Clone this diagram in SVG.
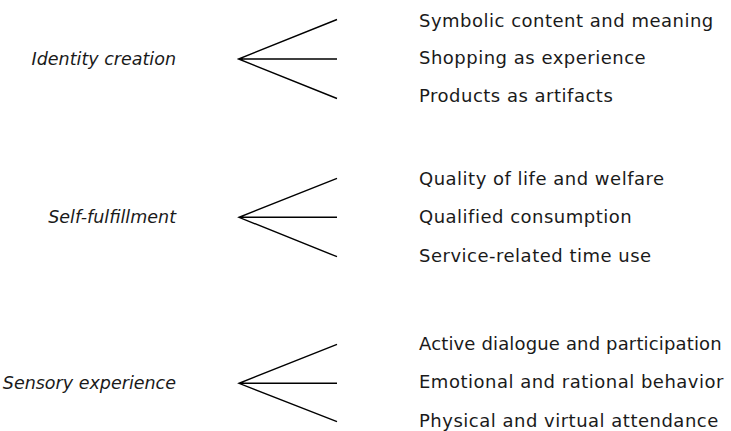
<svg xmlns="http://www.w3.org/2000/svg" width="731" height="431" viewBox="0 0 731 431">
<style>
.l{font-family:"DejaVu Sans",sans-serif;font-size:17.5px;font-style:italic;fill:#1a1a1a;text-anchor:end}
.r{font-family:"DejaVu Sans",sans-serif;font-size:18px;letter-spacing:0.5px;fill:#1a1a1a}
.c{stroke:#000;stroke-width:1.4;fill:none}
</style>
<rect width="731" height="431" fill="#fff"/>
<g id="connectors">
<path class="c" d="M337 19.5L238.5 59L337 98.5M238.5 59H337"/>
<path class="c" d="M337 178.3L239 217.3L337 256.7M239 217.3H337"/>
<path class="c" d="M337 344.3L239 383.3L337 421.7M239 383.3H337"/>
</g>
<g id="identity"><text class="l" x="176" y="65">Identity creation</text></g>
<g id="self"><text class="l" x="176" y="223.3">Self-fulfillment</text></g>
<g id="sensory"><text class="l" x="176" y="389.3">Sensory experience</text></g>
<g id="i1"><text class="r" x="419" y="27.3">Symbolic content and meaning</text></g>
<g id="i2"><text class="r" x="419" y="64.3">Shopping as experience</text></g>
<g id="i3"><text class="r" x="419" y="101.7">Products as artifacts</text></g>
<g id="s1"><text class="r" x="419" y="185">Quality of life and welfare</text></g>
<g id="s2"><text class="r" x="419" y="223.3">Qualified consumption</text></g>
<g id="s3"><text class="r" x="419" y="261.7">Service-related time use</text></g>
<g id="e1"><text class="r" x="419" y="350" style="letter-spacing:0.15px">Active dialogue and participation</text></g>
<g id="e2"><text class="r" x="419" y="387.7">Emotional and rational behavior</text></g>
<g id="e3"><text class="r" x="419" y="426.7">Physical and virtual attendance</text></g>
</svg>
